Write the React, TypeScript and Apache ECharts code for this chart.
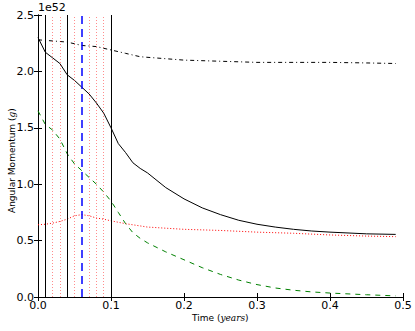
import React, { useEffect, useRef } from "react";
import * as echarts from "echarts";

const solidT = [0, 0.01, 0.02, 0.03, 0.04, 0.05, 0.06, 0.07, 0.08, 0.09, 0.1, 0.11, 0.12, 0.13, 0.14, 0.15, 0.175, 0.2, 0.225, 0.25, 0.275, 0.3, 0.325, 0.35, 0.375, 0.4, 0.45, 0.49];
const solidV = [2.3, 2.17, 2.12, 2.07, 1.97, 1.92, 1.86, 1.8, 1.72, 1.63, 1.5, 1.36, 1.28, 1.19, 1.14, 1.1, 0.97, 0.87, 0.79, 0.73, 0.68, 0.645, 0.62, 0.6, 0.585, 0.575, 0.56, 0.555];

const redT = [0, 0.01, 0.02, 0.03, 0.04, 0.05, 0.06, 0.07, 0.08, 0.09, 0.1, 0.12, 0.15, 0.2, 0.25, 0.3, 0.35, 0.4, 0.45, 0.49];
const redV = [0.64, 0.645, 0.655, 0.67, 0.69, 0.72, 0.73, 0.72, 0.7, 0.69, 0.675, 0.65, 0.62, 0.6, 0.59, 0.575, 0.565, 0.55, 0.54, 0.535];

const greenT = [0, 0.01, 0.02, 0.03, 0.04, 0.05, 0.06, 0.07, 0.08, 0.09, 0.1, 0.11, 0.12, 0.13, 0.14, 0.15, 0.175, 0.2, 0.225, 0.25, 0.275, 0.3, 0.325, 0.35, 0.375, 0.4, 0.45, 0.49];
const greenV = [1.65, 1.53, 1.48, 1.4, 1.27, 1.18, 1.12, 1.06, 1.0, 0.93, 0.85, 0.75, 0.65, 0.57, 0.52, 0.48, 0.4, 0.33, 0.26, 0.2, 0.15, 0.11, 0.08, 0.06, 0.045, 0.035, 0.02, 0.01];

const dashDotT = [0, 0.02, 0.04, 0.06, 0.08, 0.1, 0.12, 0.14, 0.16, 0.2, 0.25, 0.3, 0.35, 0.4, 0.45, 0.49];
const dashDotV = [2.28, 2.27, 2.26, 2.23, 2.22, 2.19, 2.16, 2.13, 2.12, 2.1, 2.09, 2.08, 2.08, 2.08, 2.075, 2.07];

const blackVLines = [0.01, 0.04, 0.1];
const redVLines = [0.02, 0.03, 0.05, 0.07, 0.08, 0.09];
const blueVLines = [0.06];

const xTicks = ["0.0", "0.1", "0.2", "0.3", "0.4", "0.5"];
const yTicks = ["0.0", "0.5", "1.0", "1.5", "2.0", "2.5"];

const font = "DejaVu Sans";

function zip(t: number[], v: number[]) {
  return t.map((x, i) => [x, v[i]]);
}

function vline(values: number[], color: string, type: any, width: number, opacity = 1) {
  return {
    type: "line",
    data: [],
    xAxisIndex: 0,
    yAxisIndex: 0,
    markLine: {
      silent: true,
      symbol: "none",
      label: { show: false },
      lineStyle: { color, type, width, opacity },
      data: values.map((x) => ({ xAxis: x })),
    },
  };
}

export default function App() {
  const ref = useRef<HTMLDivElement>(null);
  useEffect(() => {
    const chart = echarts.init(ref.current!, null, { renderer: "svg" });
    const axisLine = { show: true, lineStyle: { color: "#000", width: 1 } };
    const tick = { show: true, inside: true, length: 4, lineStyle: { color: "#000" } };
    chart.setOption({
      animation: false,
      backgroundColor: "#fff",
      grid: { left: 38, right: 12, top: 15, bottom: 34, containLabel: false },
      xAxis: [
        {
          type: "value",
          min: 0,
          max: 0.5,
          interval: 0.1,
          position: "bottom",
          axisLine,
          axisTick: tick,
          splitLine: { show: false },
          axisLabel: {
            color: "#000",
            fontFamily: font,
            fontSize: 11,
            margin: 3,
            formatter: (v: number) => xTicks[Math.round(v * 10)],
          },
        },
        {
          type: "value",
          min: 0,
          max: 0.5,
          interval: 0.1,
          position: "top",
          axisLine,
          axisTick: tick,
          splitLine: { show: false },
          axisLabel: { show: false },
        },
      ],
      yAxis: [
        {
          type: "value",
          min: 0,
          max: 2.5,
          interval: 0.5,
          position: "left",
          axisLine,
          axisTick: tick,
          splitLine: { show: false },
          axisLabel: {
            color: "#000",
            fontFamily: font,
            fontSize: 11,
            margin: 4,
            formatter: (v: number) => yTicks[Math.round(v * 2)],
          },
        },
        {
          type: "value",
          min: 0,
          max: 2.5,
          interval: 0.5,
          position: "right",
          axisLine,
          axisTick: tick,
          splitLine: { show: false },
          axisLabel: { show: false },
        },
      ],
      graphic: [
        {
          type: "text",
          x: 38,
          y: 2,
          z: 100,
          style: {
            text: "1e52",
            fontFamily: font,
            fontSize: 11,
            fill: "#000",
            verticalAlign: "top",
            align: "left",
          },
        },
        {
          type: "text",
          x: 192,
          y: 313,
          style: {
            rich: {
              a: { fontFamily: font, fontSize: 9, fill: "#000" },
              b: { fontFamily: "DejaVu Serif", fontStyle: "italic", fontSize: 9, fill: "#000" },
            },
            text: "{a|Time (}{b|years}{a|)}",
          },
        },
        {
          type: "text",
          x: 7,
          y: 213,
          rotation: Math.PI / 2,
          style: {
            rich: {
              a: { fontFamily: font, fontSize: 9, fill: "#000" },
              b: { fontFamily: "DejaVu Serif", fontStyle: "italic", fontSize: 9, fill: "#000" },
            },
            text: "{a|Angular Momentum (}{b|g}{a|)}",
          },
        },
      ],
      series: [
        vline(redVLines, "#ff0000", [1, 2], 1, 0.45),
        vline(blackVLines, "#000000", "solid", 1),
        vline(blueVLines, "#0000ff", [8, 5], 1.5),
        {
          type: "line",
          data: zip(dashDotT, dashDotV),
          showSymbol: false,
          lineStyle: { color: "#000", width: 1, type: [4, 3, 1, 3] },
        },
        {
          type: "line",
          data: zip(solidT, solidV),
          showSymbol: false,
          lineStyle: { color: "#000", width: 1 },
        },
        {
          type: "line",
          data: zip(redT, redV),
          showSymbol: false,
          lineStyle: { color: "#ff0000", width: 1, type: [1, 2] },
        },
        {
          type: "line",
          data: zip(greenT, greenV),
          showSymbol: false,
          lineStyle: { color: "#008000", width: 1, type: [5, 5] },
        },
      ],
    });
    return () => chart.dispose();
  }, []);
  return (
    <div
      ref={ref}
      style={{ position: "absolute", left: 0, top: 0, width: 415, height: 331 }}
    />
  );
}
